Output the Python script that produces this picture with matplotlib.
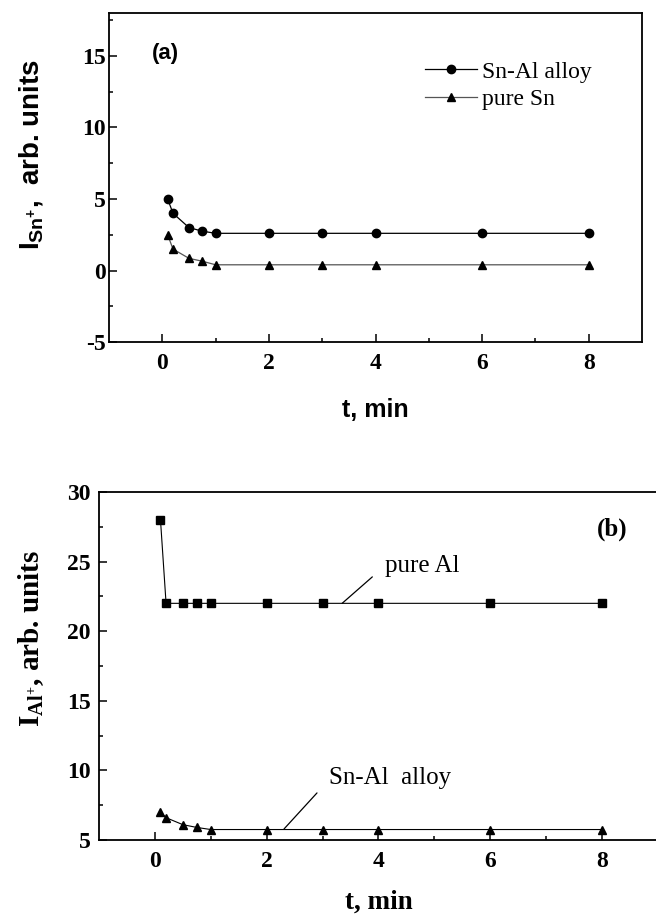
import matplotlib.pyplot as plt

plt.rcParams['mathtext.default'] = 'regular'
plt.rcParams['axes.unicode_minus'] = False

# time points, min
t = [0.1, 0.2, 0.5, 0.75, 1, 2, 3, 4, 6, 8]

# panel (a): Sn+ intensity
sn_alloy = [5.0, 4.0, 3.0, 2.75, 2.6, 2.6, 2.6, 2.6, 2.6, 2.6]
sn_pure = [2.5, 1.5, 0.85, 0.65, 0.4, 0.4, 0.4, 0.4, 0.4, 0.4]

# panel (b): Al+ intensity
al_pure = [28, 22, 22, 22, 22, 22, 22, 22, 22, 22]
al_alloy = [7.0, 6.6, 6.1, 5.9, 5.75, 5.75, 5.75, 5.75, 5.75, 5.75]

xticks = [0, 2, 4, 6, 8]
yticks_a = [-5, 0, 5, 10, 15]
yticks_b = [5, 10, 15, 20, 25, 30]

serif = 'Liberation Serif'
sans = 'Liberation Sans'

fig = plt.figure(figsize=(6.56, 9.17), dpi=100)
ax1 = fig.add_axes([0.1662, 0.6270, 0.8125, 0.3588])
ax2 = fig.add_axes([0.1509, 0.0840, 0.8521, 0.3795])


def style_axes(ax, yticks, ypad):
    ax.set_xticks(xticks)
    ax.set_xticks([1, 3, 5, 7], minor=True)
    ax.set_yticks(yticks)
    ax.set_yticks([y + 2.5 for y in yticks], minor=True)
    ax.tick_params(direction='in', which='major', length=6, width=1.1)
    ax.tick_params(direction='in', which='minor', length=3, width=1.1)
    ax.tick_params(axis='x', which='major', pad=8)
    ax.tick_params(axis='y', which='major', pad=ypad)
    for lab in ax.get_xticklabels() + ax.get_yticklabels():
        lab.set_fontfamily(serif)
        lab.set_fontweight('bold')
        lab.set_fontsize(17)
    for s in ax.spines.values():
        s.set_linewidth(1.3)


# (a)
ax1.plot(t, sn_alloy, color='black', lw=0.9, marker='o', ms=6, label='Sn-Al alloy')
ax1.plot(t, sn_pure, color='#555555', lw=0.9, marker='^', ms=6,
         mfc='black', mec='black', label='pure Sn')
style_axes(ax1, yticks_a, 2)
ax1.set_xlim(-1, 9)
ax1.set_ylim(-5, 18)
ax1.text(0.081, 0.909, '(a)', transform=ax1.transAxes, fontfamily=sans,
         fontweight='bold', fontsize=16, va='top')
ax1.legend(loc='upper left', bbox_to_anchor=(0.571, 0.89), frameon=False,
           borderpad=0, prop={'family': serif, 'size': 17}, handlelength=2.2,
           handletextpad=0.2, labelspacing=0.25)
ax1.set_xlabel('t, min', fontfamily=sans, fontweight='bold', fontsize=18)
ax1.xaxis.set_label_coords(0.5, -0.17)
ax1.set_ylabel(r'I$_{Sn^{+}}$,  arb. units', fontfamily=sans, fontweight='bold',
               fontsize=20)
ax1.yaxis.set_label_coords(-0.12, 0.57)

# (b)
ax2.plot(t, al_pure, color='black', lw=0.8, marker='s', ms=6)
ax2.plot(t, al_alloy, color='black', lw=0.8, marker='^', ms=6)
style_axes(ax2, yticks_b, 6)
ax2.set_xlim(-1, 9)
ax2.set_ylim(5, 30)
ax2.text(0.891, 0.925, '(b)', transform=ax2.transAxes, fontfamily=serif,
         fontweight='bold', fontsize=18, va='top')

leader = dict(arrowstyle='-', color='black', lw=0.9, shrinkA=0, shrinkB=0)
ax2.annotate('', xy=(3.35, 22), xytext=(3.89, 23.9), arrowprops=leader)
ax2.text(4.12, 25.47, 'pure Al', fontfamily=serif, fontsize=18, va='top')
ax2.annotate('', xy=(2.31, 5.79), xytext=(2.9, 8.38), arrowprops=leader)
ax2.text(3.12, 10.24, 'Sn-Al  alloy', fontfamily=serif, fontsize=18, va='top')

ax2.set_xlabel('t, min', fontfamily=serif, fontweight='bold', fontsize=19.5)
ax2.xaxis.set_label_coords(0.5, -0.144)
ax2.set_ylabel(r'I$_{Al^{+}}$, arb. units', fontfamily=serif, fontweight='bold',
               fontsize=21)
ax2.yaxis.set_label_coords(-0.095, 0.579)

fig.savefig('out.png', dpi=100)
